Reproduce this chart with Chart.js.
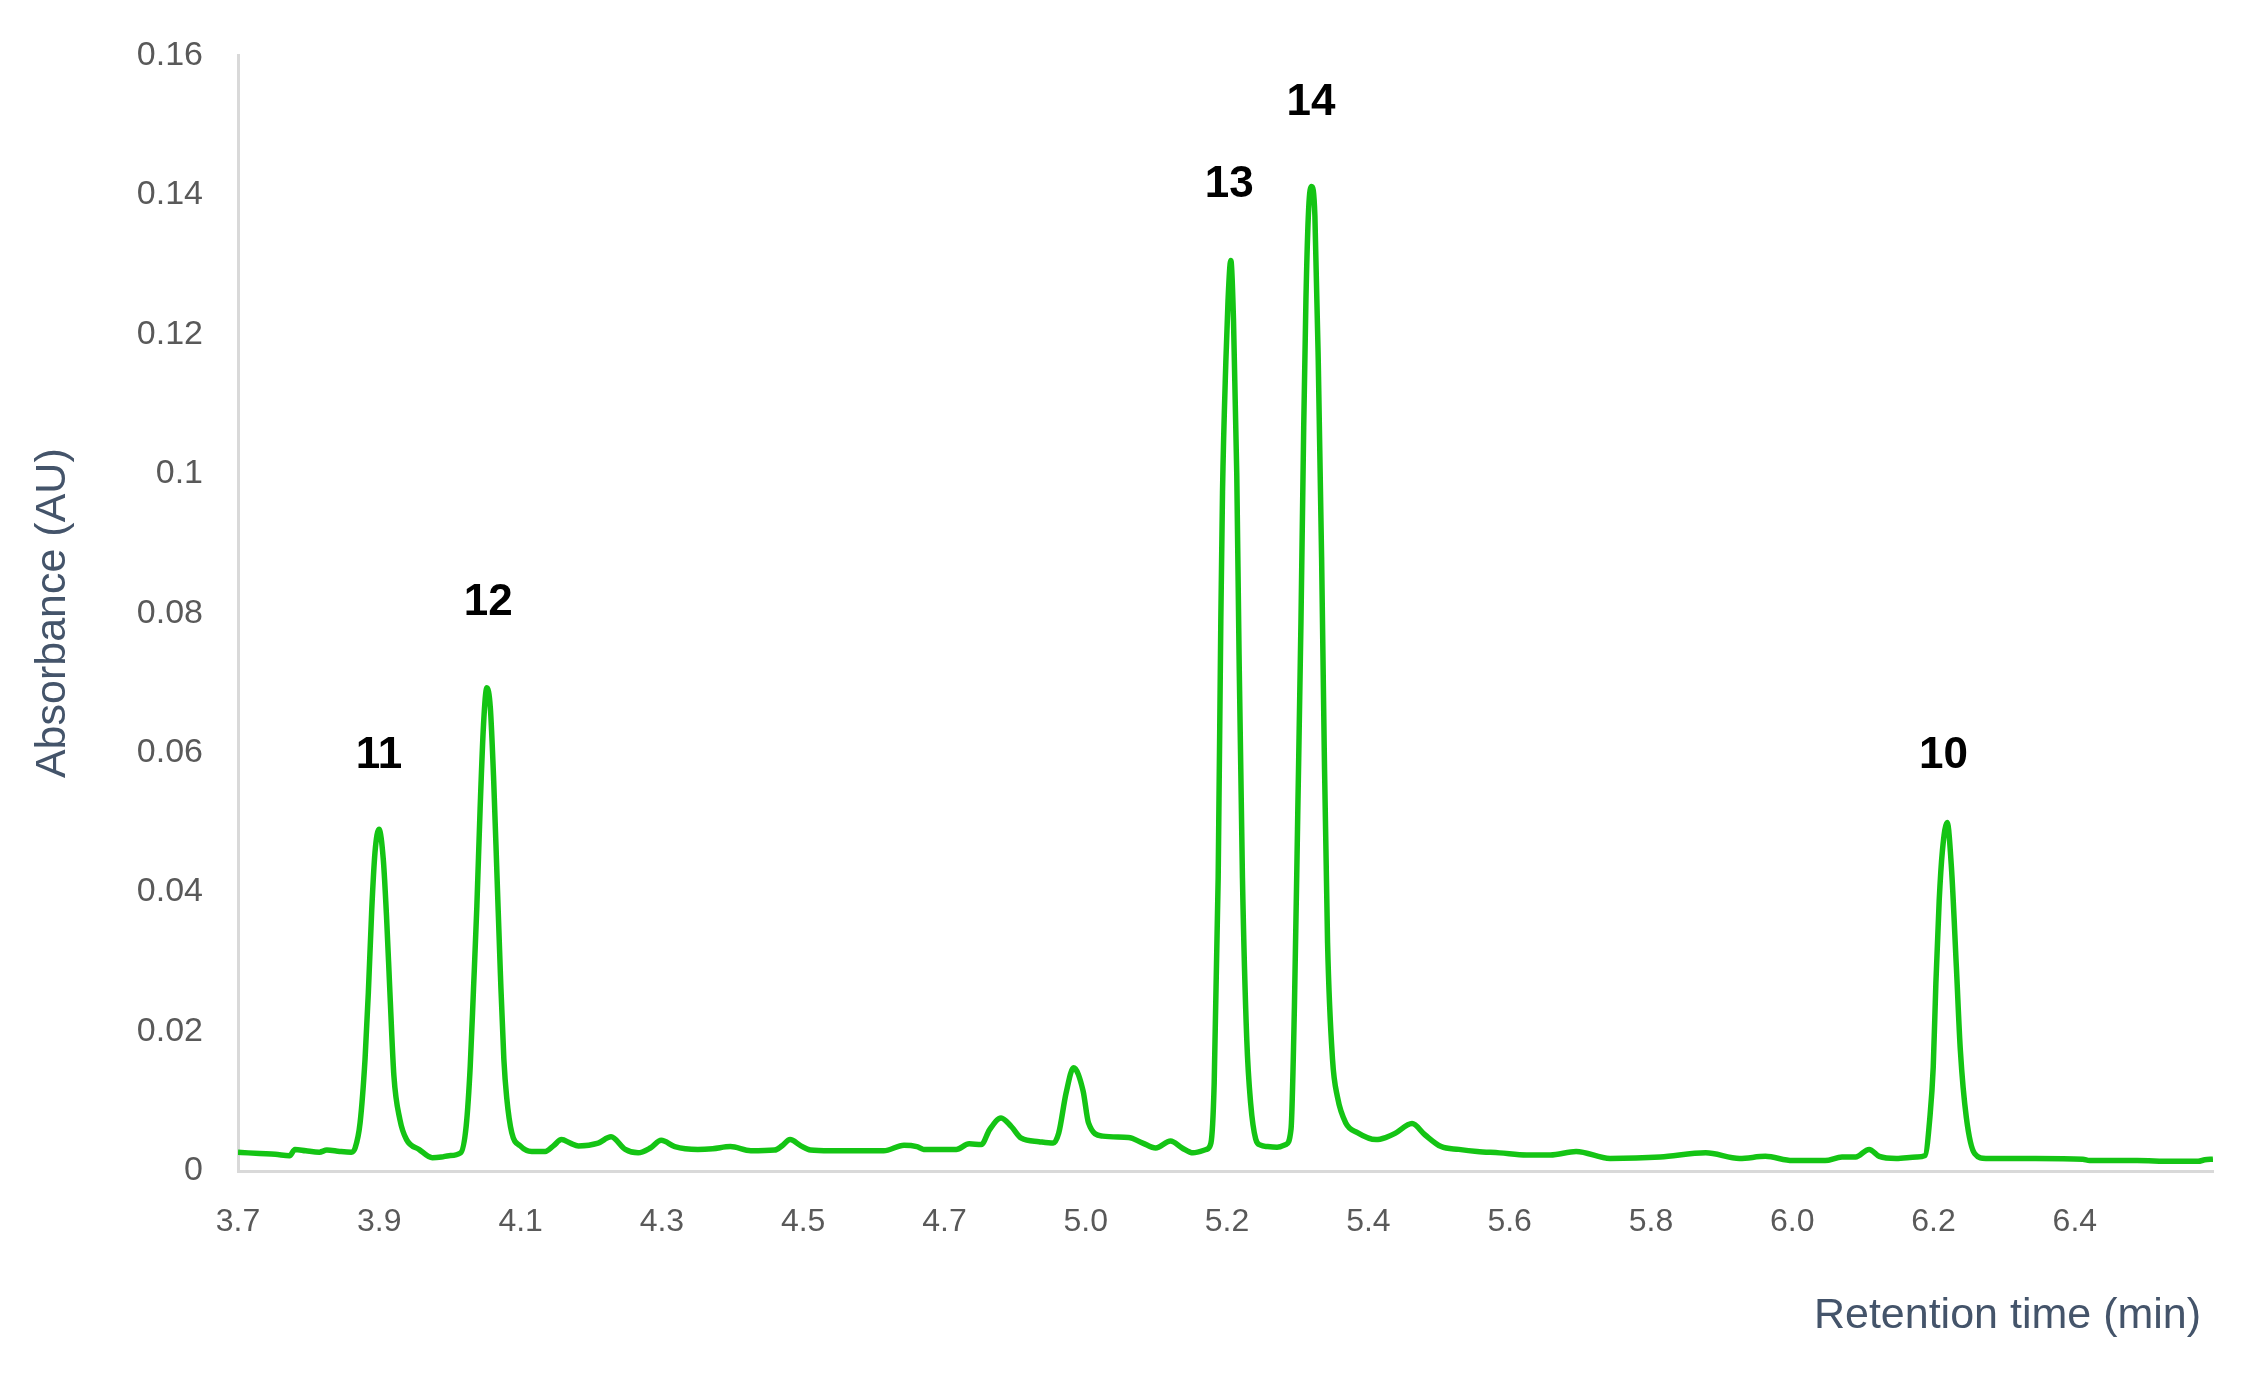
<!DOCTYPE html>
<html>
<head>
<meta charset="utf-8">
<script src="https://cdn.jsdelivr.net/npm/chart.js@4.4.1/dist/chart.umd.min.js"></script>
<style>
  html, body { margin: 0; padding: 0; background: #ffffff; overflow: hidden; }
  #wrap { width: 2252px; height: 1388px; }
  canvas { display: block; }
</style>
</head>
<body>
<div id="wrap"><canvas id="chart" width="2252" height="1388" style="width:2252px;height:1388px"></canvas></div>
<script>
// Retention time (min) and absorbance (AU)
const retentionTime = [
  3.700, 3.715, 3.732, 3.755, 3.776, 3.784, 3.800, 3.820, 3.831, 3.850, 3.867,
  3.8727, 3.8800, 3.8873, 3.8922, 3.8972, 3.9020, 3.9079, 3.9142, 3.9192, 3.9240, 3.9299, 3.9387, 3.9485,
  3.9670, 3.9865, 4.0000, 4.0110, 4.0282,
  4.0365, 4.0424, 4.0472, 4.0522, 4.0570, 4.0620, 4.0669, 4.0720, 4.0770, 4.0820, 4.0870, 4.0920, 4.0962, 4.1036,
  4.1162, 4.1330, 4.1530, 4.1650, 4.1770, 4.1900, 4.2020, 4.2310, 4.2500, 4.2710, 4.2900, 4.3080, 4.3240,
  4.3440, 4.3780, 4.4000, 4.4260, 4.4560, 4.4910, 4.5020, 4.5140, 4.5300, 4.5440, 4.5730, 4.6100, 4.6520,
  4.6820, 4.7010, 4.7110, 4.7590, 4.7780, 4.7960, 4.8080, 4.8250, 4.8400, 4.8550, 4.8810, 4.9020,
  4.9100, 4.9210, 4.9320, 4.9460, 4.9540, 4.9750, 5.0130, 5.0340, 5.0530, 5.0750, 5.0920, 5.1080, 5.1280,
  5.1345, 5.1393, 5.1452, 5.1491, 5.1516, 5.1565, 5.1598, 5.1638, 5.1678, 5.1726, 5.1760, 5.1810, 5.1873,
  5.1931, 5.2005, 5.2078, 5.2180, 5.2320, 5.2450,
  5.2526, 5.2576, 5.2625, 5.2673, 5.2713, 5.2746, 5.2786, 5.2830, 5.2878, 5.2928, 5.2977, 5.3016, 5.3065,
  5.3138, 5.3211, 5.3333, 5.3505, 5.3780, 5.3920, 5.4060, 5.4310, 5.4500, 5.4740, 5.5000, 5.5270, 5.5600,
  5.6000, 5.6350, 5.6730, 5.7230, 5.7970, 5.8640, 5.9140, 5.9520, 5.9920, 6.0400, 6.0650, 6.0850, 6.1050,
  6.1200, 6.1450, 6.1750,
  6.1873, 6.1946, 6.1995, 6.2034, 6.2083, 6.2131, 6.2200, 6.2263, 6.2336, 6.2395, 6.2483, 6.2606, 6.2772,
  6.3000, 6.3500, 6.4200, 6.4300, 6.5000, 6.5500, 6.5900, 6.6000, 6.6120
];
const absorbance = [
  0.0027, 0.0026, 0.0025, 0.0024, 0.0022, 0.0031, 0.0029, 0.0027, 0.0030, 0.0028, 0.0027,
  0.0033, 0.0069, 0.0160, 0.0256, 0.0375, 0.0457, 0.0490, 0.0447, 0.0361, 0.0256, 0.0136, 0.0074, 0.0045,
  0.0031, 0.0019, 0.0020, 0.0022, 0.0026,
  0.0065, 0.0150, 0.0260, 0.0380, 0.0520, 0.0640, 0.0693, 0.0665, 0.0560, 0.0420, 0.0280, 0.0160, 0.0105, 0.0055,
  0.0036, 0.0028, 0.0028, 0.0036, 0.0045, 0.0040, 0.0036, 0.0040, 0.0049, 0.0031, 0.0026, 0.0033, 0.0044,
  0.0035, 0.0031, 0.0032, 0.0035, 0.0029, 0.0030, 0.0036, 0.0045, 0.0036, 0.0030, 0.0029, 0.0029, 0.0029,
  0.0037, 0.0035, 0.0031, 0.0031, 0.0039, 0.0038, 0.0059, 0.0076, 0.0064, 0.0047, 0.0042, 0.0040,
  0.0054, 0.0112, 0.0148, 0.0115, 0.0069, 0.0050, 0.0048, 0.0040, 0.0033, 0.0043, 0.0033, 0.0026, 0.0031,
  0.0040, 0.0125, 0.0420, 0.0790, 0.0974, 0.1160, 0.1250, 0.1306, 0.1220, 0.1000, 0.0740, 0.0420, 0.0190,
  0.0097, 0.0046, 0.0037, 0.0035, 0.0034, 0.0038,
  0.0060, 0.0235, 0.0510, 0.0790, 0.1066, 0.1250, 0.1380, 0.1412, 0.1370, 0.1160, 0.0880, 0.0604, 0.0327,
  0.0160, 0.0106, 0.0069, 0.0055, 0.0045, 0.0048, 0.0054, 0.0068, 0.0052, 0.0035, 0.0031, 0.0028, 0.0026,
  0.0023, 0.0023, 0.0028, 0.0018, 0.0020, 0.0026, 0.0018, 0.0021, 0.0015, 0.0015, 0.0020, 0.0020, 0.0031,
  0.0021, 0.0018, 0.0020,
  0.0022, 0.0077, 0.0149, 0.0269, 0.0388, 0.0460, 0.0500, 0.0436, 0.0293, 0.0173, 0.0077, 0.0025, 0.0018,
  0.0018, 0.0018, 0.0017, 0.0015, 0.0015, 0.0014, 0.0014, 0.0016, 0.0017
];

// Axis ticks (category-style labels every 12.5 s)
const xTickValues = [3.7, 3.9083, 4.1167, 4.325, 4.5333, 4.7417, 4.95, 5.1583, 5.3667, 5.575, 5.7833, 5.9917, 6.2, 6.4083];
const xTickLabels = ['3.7', '3.9', '4.1', '4.3', '4.5', '4.7', '5.0', '5.2', '5.4', '5.6', '5.8', '6.0', '6.2', '6.4'];
const xMin = 3.7;
const xMax = 6.612;
const yMin = 0;
const yMax = 0.16;
const yStep = 0.02;

// Peak annotations
const peakNames = ['11', '12', '13', '14', '10'];
const peakLabelTime = [3.9079, 4.0688, 5.1615, 5.2822, 6.2147];
const peakLabelAbs = [0.0595, 0.0815, 0.1415, 0.1532, 0.0595];

const points = retentionTime.map((t, i) => ({ x: t, y: absorbance[i] }));

const peakLabelPlugin = {
  id: 'peakLabels',
  afterDatasetsDraw(chart) {
    const { ctx, scales: { x, y } } = chart;
    ctx.save();
    ctx.font = 'bold 44px "Liberation Sans", Arial, sans-serif';
    ctx.fillStyle = '#000000';
    ctx.textAlign = 'center';
    ctx.textBaseline = 'middle';
    peakNames.forEach((name, i) => {
      ctx.fillText(name, x.getPixelForValue(peakLabelTime[i]), y.getPixelForValue(peakLabelAbs[i]));
    });
    ctx.restore();
  }
};

new Chart(document.getElementById('chart'), {
  type: 'line',
  data: {
    datasets: [{
      data: points,
      borderColor: '#14c414',
      borderWidth: 5.5,
      pointRadius: 0,
      cubicInterpolationMode: 'monotone',
      fill: false
    }]
  },
  options: {
    responsive: false,
    devicePixelRatio: 1,
    animation: false,
    layout: { padding: { top: 55, right: 39, bottom: 0, left: 0 } },
    plugins: { legend: { display: false }, tooltip: { enabled: false } },
    scales: {
      x: {
        type: 'linear',
        min: xMin,
        max: xMax,
        grid: { display: false, drawTicks: false, tickLength: 0 },
        border: { display: true, color: '#d9d9d9', width: 3 },
        afterBuildTicks(axis) { axis.ticks = xTickValues.map(v => ({ value: v })); },
        afterFit(axis) { axis.height = 217; },
        ticks: {
          autoSkip: false,
          maxRotation: 0,
          padding: 32,
          color: '#595959',
          font: { family: '"Liberation Sans", Arial, sans-serif', size: 32 },
          callback: (value, index) => xTickLabels[index]
        },
        title: {
          display: true,
          text: 'Retention time (min) ',
          align: 'end',
          color: '#44546A',
          font: { family: '"Liberation Sans", Arial, sans-serif', size: 43 },
          padding: { top: 0, bottom: 46 }
        }
      },
      y: {
        min: yMin,
        max: yMax,
        grid: { display: false, drawTicks: false, tickLength: 0 },
        border: { display: true, color: '#d9d9d9', width: 3 },
        afterFit(axis) { axis.width = 238; },
        ticks: {
          stepSize: yStep,
          padding: 35,
          color: '#595959',
          font: { family: '"Liberation Sans", Arial, sans-serif', size: 34 },
          callback: v => (Math.round(v * 100) / 100).toString()
        },
        title: {
          display: true,
          text: 'Absorbance (AU)',
          color: '#44546A',
          font: { family: '"Liberation Sans", Arial, sans-serif', size: 43 },
          padding: { top: 27, bottom: 0 }
        }
      }
    }
  },
  plugins: [peakLabelPlugin]
});
</script>
</body>
</html>
